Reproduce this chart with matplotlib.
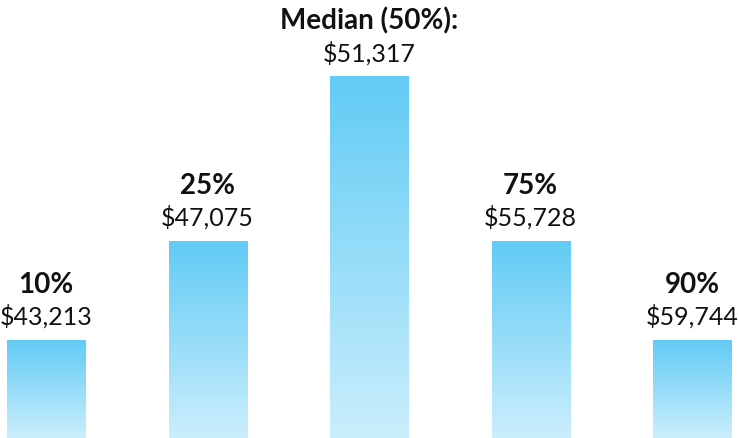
import matplotlib
matplotlib.use("Agg")
import matplotlib.pyplot as plt
import numpy as np
from matplotlib.colors import LinearSegmentedColormap

percentile_labels = ["10%", "25%", "Median (50%):", "75%", "90%"]
salary_values = [43213, 47075, 51317, 55728, 59744]
bar_heights = [1.0, 2.01, 3.69, 2.01, 1.0]

top_color = "#62CBF5"
bottom_color = "#CBEEFC"

fig = plt.figure(figsize=(7.39, 4.39), dpi=100)
ax = fig.add_axes([0, 0, 1, 1])
ax.set_axis_off()

x = np.arange(len(bar_heights))
width = 0.483
bars = ax.bar(x, bar_heights, width=width, color="none", edgecolor="none")

cmap = LinearSegmentedColormap.from_list("grad", [bottom_color, top_color])
grad = np.linspace(0, 1, 256).reshape(-1, 1)
for b in bars:
    x0, y0 = b.get_x(), b.get_y()
    w, h = b.get_width(), b.get_height()
    im = ax.imshow(grad, cmap=cmap, aspect="auto", origin="lower",
                   extent=[x0, x0 + w, y0, y0 + h], zorder=2, interpolation="bilinear")
    im.set_clip_path(b)

ax.set_xlim(-0.285, 4.291)
ax.set_ylim(0, 4.48)

fam = ["Lato", "DejaVu Sans"]
for xi, h, lab, val in zip(x, bar_heights, percentile_labels, salary_values):
    ax.annotate(f"${val:,}", (xi, h), xytext=(0, 11.5), textcoords="offset points",
                ha="center", va="baseline", fontsize=18, family=fam,
                color="#111111", fontweight="normal")
    ax.annotate(lab, (xi, h), xytext=(0, 34.5), textcoords="offset points",
                ha="center", va="baseline", fontsize=20, family=fam,
                color="#111111", fontweight="bold")

fig.savefig("out.png", dpi=100)
